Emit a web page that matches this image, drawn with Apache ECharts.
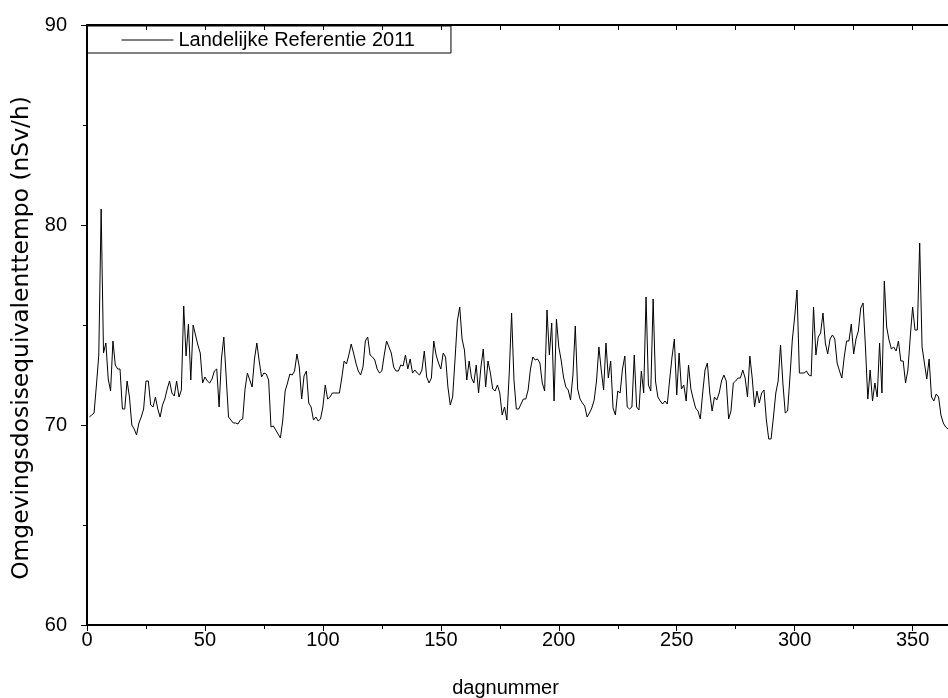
<!DOCTYPE html>
<html>
<head>
<meta charset="utf-8">
<script src="https://cdn.jsdelivr.net/npm/echarts@6/dist/echarts.min.js"></script>
<style>
html,body{margin:0;padding:0;background:#fff;}
#chart{width:948px;height:698px;}
</style>
</head>
<body>
<div id="chart"></div>
<script>
// Daily ambient dose equivalent rate values (nSv/h), day 1..365
const seriesName = 'Landelijke Referentie 2011';
const xTitle = 'dagnummer';
const yTitle = 'Omgevingsdosisequivalenttempo (nSv/h)';
const firstDay = 1;
const doseValues = [
70.4,70.5,70.6,72.0,73.5,80.8,73.6,74.1,72.3,71.7,
74.2,73.0,72.8,72.8,70.8,70.8,72.2,71.4,70.0,69.8,
69.5,70.1,70.4,70.8,72.2,72.2,71.0,70.9,71.4,70.8,
70.4,71.0,71.3,71.8,72.2,71.6,71.45,72.2,71.4,71.75,
75.95,73.45,75.05,72.25,75.0,74.5,74.0,73.6,72.1,72.4,
72.2,72.1,72.3,72.7,72.8,70.9,73.3,74.4,72.4,70.4,
70.25,70.1,70.1,70.05,70.25,70.3,71.8,72.6,72.25,71.9,
73.3,74.1,73.2,72.4,72.6,72.55,72.25,69.9,69.95,69.75,
69.55,69.35,70.25,71.7,72.1,72.55,72.5,72.7,73.55,72.9,
71.3,72.45,72.7,71.1,70.9,70.25,70.4,70.2,70.3,70.9,
72.0,71.3,71.4,71.6,71.6,71.6,71.6,72.35,73.2,73.05,
73.5,74.05,73.6,73.1,72.7,72.5,72.9,74.2,74.4,73.5,
73.4,73.25,72.8,72.6,72.7,73.5,74.2,73.9,73.6,72.9,
72.7,72.7,73.0,72.95,73.5,72.8,73.3,72.6,72.75,72.6,
72.5,72.75,73.7,72.4,72.1,72.35,74.2,73.5,73.1,72.8,
73.6,73.4,71.9,71.0,71.4,73.25,75.2,75.9,74.3,73.75,
72.25,73.2,72.35,72.1,73.0,71.6,72.9,73.8,71.9,73.2,
72.6,71.8,71.7,72.0,71.6,70.5,70.9,70.25,72.6,75.6,
72.25,70.8,70.8,71.05,71.3,71.3,71.75,72.8,73.4,73.25,
73.3,73.1,72.1,71.7,75.75,73.5,75.1,71.2,75.3,73.9,
73.25,72.4,71.9,71.75,71.25,72.5,74.95,71.8,71.3,71.1,
70.95,70.4,70.6,70.85,71.25,72.2,73.9,72.75,71.75,74.1,
72.35,73.2,70.85,70.5,71.7,71.6,72.8,73.45,70.9,70.8,
70.9,73.5,70.9,70.75,72.7,71.6,76.4,72.0,71.7,76.3,
72.2,71.4,71.2,71.05,71.2,71.05,72.25,73.4,74.3,71.5,
73.6,71.8,72.0,71.2,73.0,71.8,71.3,70.85,70.7,70.3,
71.6,72.75,73.1,71.6,70.7,71.4,71.25,71.6,72.2,72.5,
72.2,70.3,70.7,72.1,72.2,72.35,72.35,72.75,72.35,71.4,
73.45,72.35,70.9,71.7,71.1,71.6,71.75,70.25,69.3,69.3,
70.4,71.6,72.2,74.0,72.1,70.6,70.7,72.4,74.25,75.4,
76.75,72.6,72.6,72.6,72.7,72.5,72.45,75.9,73.5,74.4,
74.6,75.6,74.1,73.55,74.3,74.5,74.3,73.1,72.7,72.35,
73.4,74.2,74.2,75.05,73.55,74.3,74.7,75.85,76.1,73.9,
71.3,72.75,71.2,72.1,71.4,74.1,71.6,77.2,74.9,74.25,
73.8,73.9,73.7,74.2,73.2,73.2,72.1,72.75,74.4,75.9,
74.75,74.75,79.1,73.9,73.1,72.3,73.3,71.4,71.2,71.55,
71.4,70.5,70.1,69.9,69.8
];
const xMin = 0, xMax = 365, xInterval = 50;
const yMin = 60, yMax = 90, yInterval = 10;

const points = doseValues.map((v, i) => [firstDay + i, v]);

const sans = '"Liberation Sans", Arial, sans-serif';
const chart = echarts.init(document.getElementById('chart'), null, {renderer: 'canvas'});
chart.setOption({
  animation: false,
  backgroundColor: '#fff',
  grid: {left: 87, top: 25, right: 0, bottom: 73, containLabel: false, outerBoundsMode: 'none'},
  legend: {
    left: 87, top: 26,
    padding: [4, 36, 3, 34],
    borderColor: '#000', borderWidth: 1,
    itemWidth: 52, itemHeight: 14, itemGap: 6,
    itemStyle: {opacity: 0},
    lineStyle: {color: '#000', width: 1, opacity: 1},
    textStyle: {fontFamily: sans, fontSize: 20, color: '#000'},
    data: [{name: seriesName}]
  },
  xAxis: [{
    type: 'value', min: xMin, max: xMax, interval: xInterval,
    name: xTitle, nameLocation: 'middle', nameGap: 53,
    nameTextStyle: {fontFamily: sans, fontSize: 20, color: '#000', padding: [0, 24, 0, 0]},
    axisLine: {show: true, onZero: false, lineStyle: {color: '#000', width: 2}},
    axisTick: {show: true, inside: false, length: 6, lineStyle: {color: '#000', width: 1}},
    minorTick: {show: true, splitNumber: 2, length: 4, lineStyle: {color: '#000', width: 1}},
    axisLabel: {fontFamily: sans, fontSize: 20, color: '#000', margin: 5, showMaxLabel: false},
    splitLine: {show: false}
  }, {
    type: 'value', position: 'top', min: xMin, max: xMax, interval: xInterval,
    axisLine: {show: true, onZero: false, lineStyle: {color: '#000', width: 2}},
    axisTick: {show: true, inside: true, length: 5, lineStyle: {color: '#000', width: 1}},
    minorTick: {show: true, splitNumber: 2, length: 5, lineStyle: {color: '#000', width: 1}},
    axisLabel: {show: false},
    splitLine: {show: false}
  }],
  yAxis: {
    type: 'value', min: yMin, max: yMax, interval: yInterval,
    name: yTitle, nameLocation: 'middle', nameGap: 53,
    nameTextStyle: {fontFamily: '"DejaVu Sans", sans-serif', fontSize: 23.4, color: '#000', padding: [0, 26, 0, 0]},
    axisLine: {show: true, onZero: false, lineStyle: {color: '#000', width: 2}},
    axisTick: {show: true, inside: false, length: 6, lineStyle: {color: '#000', width: 1}},
    minorTick: {show: true, splitNumber: 2, length: 4, lineStyle: {color: '#000', width: 1}},
    axisLabel: {fontFamily: sans, fontSize: 20, color: '#000', margin: 20},
    splitLine: {show: false}
  },
  series: [{
    name: seriesName, type: 'line', xAxisIndex: 0,
    data: points, showSymbol: false, symbol: 'none',
    lineStyle: {color: '#000', width: 1}, itemStyle: {color: '#000'},
    clip: true
  }]
});
</script>
</body>
</html>
